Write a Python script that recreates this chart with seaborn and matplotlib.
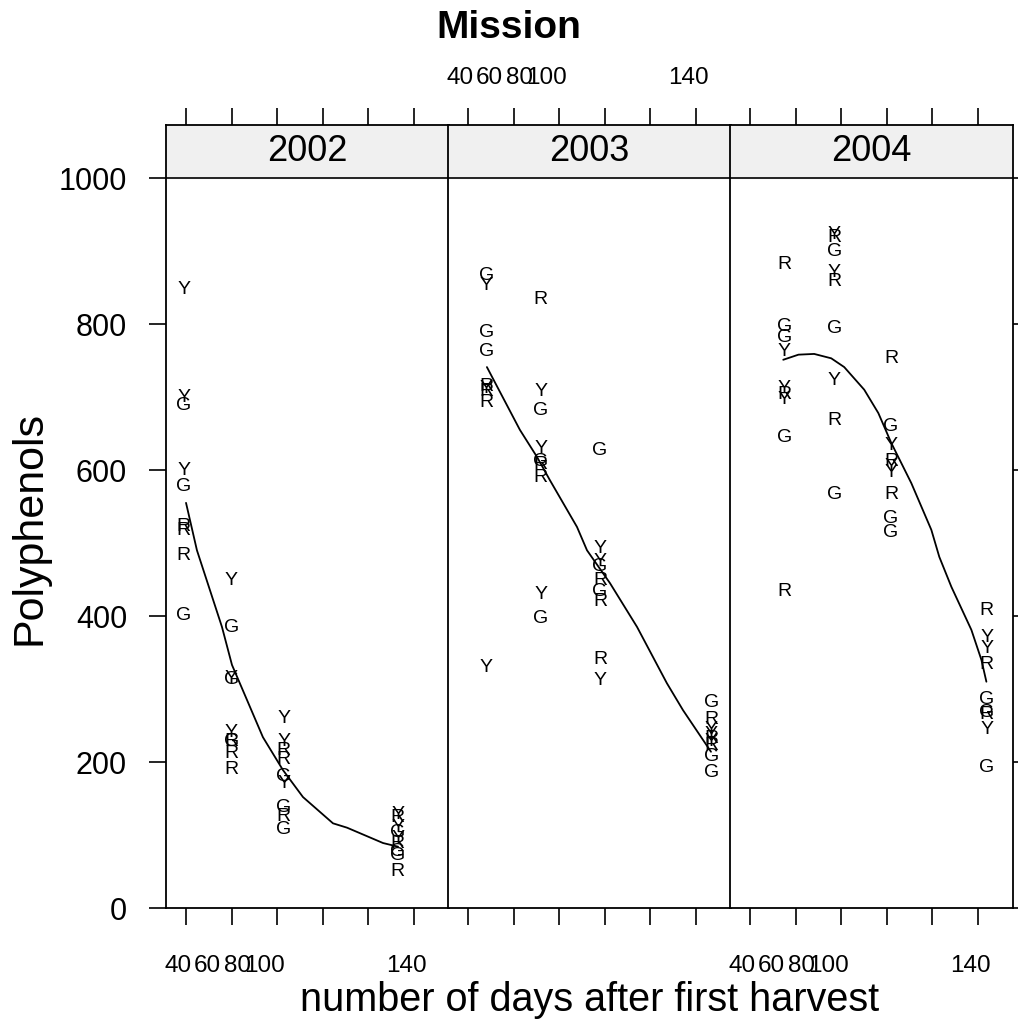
import matplotlib
matplotlib.use("Agg")
import matplotlib.pyplot as plt
import seaborn as sns

sns.set_style("white")
plt.rcParams['font.family'] = ['Liberation Sans', 'DejaVu Sans']
plt.rcParams['text.color'] = 'black'
plt.rcParams['xtick.color'] = 'black'
plt.rcParams['ytick.color'] = 'black'

# data: harvest dates per year, letters = fruit colour
years = [2002, 2003, 2004]

days_2002 = [39, 60, 83, 133]
lab_2002 = ["YYGYGRRRG", "YGGYYGRRR", "YYRRGYGRG", "YRYGYRGGR"]
val_2002 = [[847, 700, 688, 600, 578, 522, 517, 483, 401],
            [449, 384, 313, 315, 240, 228, 228, 212, 190],
            [260, 228, 216, 203, 180, 171, 137, 125, 107],
            [128, 124, 110, 104, 95, 88, 78, 72, 50]]

days_2003 = [48, 72, 98, 147]
lab_2003 = ["GYGGRYRRY", "RYGYGRRYG", "GYYGRGRRY", "GRYYRYRGG"]
val_2003 = [[867, 853, 789, 762, 714, 712, 708, 693, 330],
            [833, 707, 682, 630, 611, 607, 590, 429, 397],
            [627, 493, 475, 468, 449, 433, 420, 340, 312],
            [282, 258, 245, 237, 232, 228, 222, 207, 185]]

days_2004 = [55, 77, 102, 144]
lab_2004 = ["RGGYYRYGR", "YRGYRGYRG", "RGYRYYRGG", "RYYRGGRYG"]
val_2004 = [[881, 796, 782, 762, 712, 703, 697, 645, 433],
            [922, 918, 899, 870, 858, 794, 723, 668, 566],
            [753, 659, 634, 611, 605, 596, 566, 534, 514],
            [408, 370, 356, 333, 285, 268, 265, 244, 193]]

# smoothed curves
fit_x_2002 = [40.0, 44.8, 55.8, 60.2, 66.8, 73.8, 82.6, 91.4, 104.6, 110.8, 126.6, 133.2]
fit_y_2002 = [555, 490, 385, 333, 285, 234, 189, 152, 116, 110, 89, 84]
fit_x_2003 = [48.3, 62.8, 70.3, 76.0, 87.9, 92.3, 102.4, 114.3, 127.4, 134.5, 146.8]
fit_y_2003 = [741, 655, 618, 586, 522, 490, 445, 385, 308, 271, 214]
fit_x_2004 = [54.6, 61.3, 68.2, 75.7, 81.4, 90.2, 96.4, 102.1, 110.9, 119.7, 123.2,
              128.5, 137.3, 141.7, 143.9]
fit_y_2004 = [751, 758, 759, 753, 741, 710, 678, 637, 582, 518, 481,
              440, 381, 340, 310]

x_ticks = [40, 60, 80, 100, 120, 140]
x_tick_labels = ["40", "60", "80", "100", "140"]
x_label_pos = [36.5, 49.2, 62.8, 74.7, 137.1]
y_ticks = [0, 200, 400, 600, 800, 1000]

days = [days_2002, days_2003, days_2004]
labs = [lab_2002, lab_2003, lab_2004]
vals = [val_2002, val_2003, val_2004]
fits = [(fit_x_2002, fit_y_2002), (fit_x_2003, fit_y_2003), (fit_x_2004, fit_y_2004)]

W, H = 1018, 1032
fig = plt.figure(figsize=(W / 100, H / 100), dpi=100)

left_px = [166, 448, 730]
panel_w = 283
top_px, strip_px, bottom_px = 125, 178, 908
ymax = 1000 * (bottom_px - top_px) / (bottom_px - strip_px)

for i, yr in enumerate(years):
    ax = fig.add_axes([left_px[i] / W, 1 - bottom_px / H,
                       panel_w / W, (bottom_px - top_px) / H])
    ax.set_xlim(31.2, 31.2 + panel_w / 2.275)
    ax.set_ylim(0, ymax)

    # strip on top of each panel
    ax.axhspan(1000, ymax, color='#f0f0f0', zorder=0)
    ax.axhline(1000, color='black', lw=1.2)
    ax.text(0.5, (1000 + ymax) / 2, str(yr), transform=ax.get_yaxis_transform(),
            ha='center', va='center', fontsize=26)

    for d, lab, v in zip(days[i], labs[i], vals[i]):
        for letter, val in zip(lab, v):
            ax.text(d, val, letter, ha='center', va='center', fontsize=14, color='black')

    fx, fy = fits[i]
    sns.lineplot(x=fx, y=fy, ax=ax, color='black', lw=1.3, sort=False, estimator=None)

    for s in ax.spines.values():
        s.set_color('black')
        s.set_linewidth(1.3)

    ax.set_xticks(x_ticks)
    ax.set_xticklabels([])
    ax.set_xticks(x_label_pos, minor=True)
    ax.set_xticklabels(x_tick_labels, minor=True)
    ax.tick_params(axis='x', which='major', direction='out', length=12, width=1.2,
                   top=True, bottom=True, labelbottom=False, labeltop=False)
    ax.tick_params(axis='x', which='minor', length=0, labelsize=17.5,
                   labelbottom=(i != 1), labeltop=(i == 1),
                   pad=34 if i != 1 else 26)

    ax.set_yticks(y_ticks)
    if i == 0:
        ax.tick_params(axis='y', direction='out', length=12, width=1.2, left=True,
                       right=False, labelleft=True, labelright=False, labelsize=22, pad=16)
    elif i == 2:
        ax.tick_params(axis='y', direction='out', length=12, width=1.2, left=False,
                       right=True, labelleft=False, labelright=False)
    else:
        ax.tick_params(axis='y', left=False, right=False, labelleft=False)
    ax.set_xlabel('')
    ax.set_ylabel('')

fig.text(509 / W, 1 - 28 / H, "Mission", ha='center', va='center',
         fontsize=28, fontweight='bold')
fig.text(590 / W, 1 - 1000 / H, "number of days after first harvest",
         ha='center', va='center', fontsize=28.5)
fig.text(30 / W, 1 - 528 / H, "Polyphenols", ha='center', va='center',
         fontsize=31, rotation=90)

plt.savefig("out.png", dpi=100)
plt.close()
